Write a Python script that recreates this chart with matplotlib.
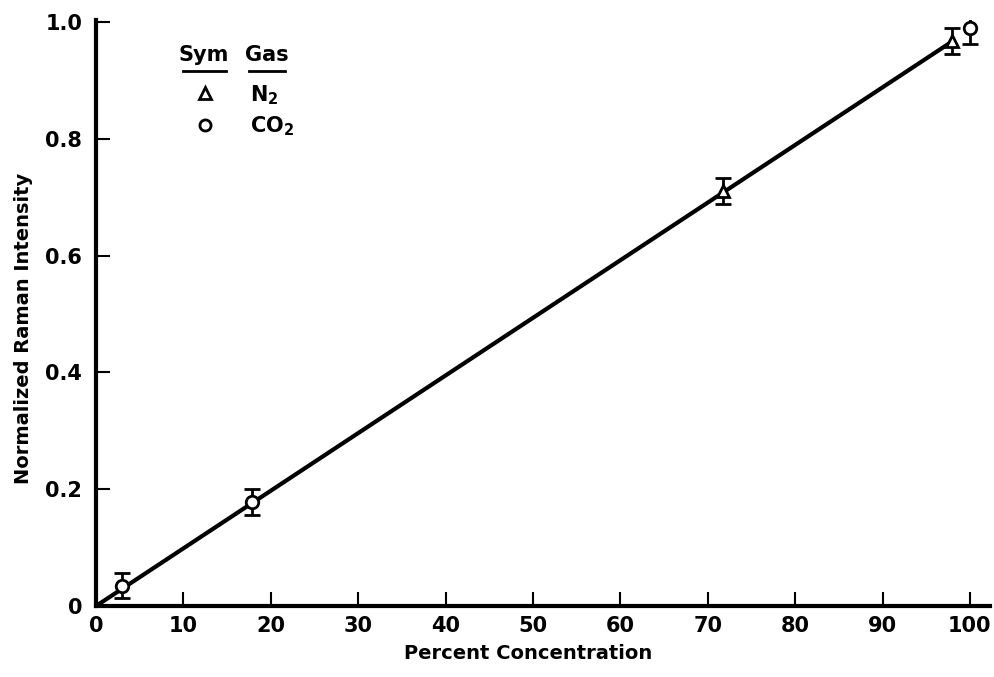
import matplotlib
matplotlib.use('Agg')
import matplotlib.pyplot as plt

plt.rcParams['font.family'] = ['DejaVu Sans']
plt.rcParams['font.weight'] = 'bold'
plt.rcParams['axes.labelweight'] = 'bold'
plt.rcParams['mathtext.default'] = 'regular'

# data
n2_conc = [71.7, 97.9]
n2_int = [0.711, 0.967]
n2_err = [0.022, 0.022]
co2_conc = [3.0, 17.8, 100.0]
co2_int = [0.035, 0.178, 0.99]
co2_err = [0.022, 0.022, 0.027]
fit_x = [0, 98]
fit_y = [0, 0.967]

x_ticks = [0, 10, 20, 30, 40, 50, 60, 70, 80, 90, 100]
y_ticks = [0, 0.2, 0.4, 0.6, 0.8, 1.0]
y_labels = ['0', '0.2', '0.4', '0.6', '0.8', '1.0']

fig = plt.figure(figsize=(9.95, 6.77), dpi=100)
ax = fig.add_axes([96 / 995, (677 - 606) / 677, (990 - 96) / 995, (606 - 20) / 677])

ax.plot(fit_x, fit_y, color='black', lw=3, solid_capstyle='butt', zorder=2)
ax.errorbar(n2_conc, n2_int, yerr=n2_err, fmt='^', ms=9, mfc='white', mec='black',
            mew=2, ecolor='black', elinewidth=2, capsize=6, capthick=2, zorder=3)
ax.errorbar(co2_conc, co2_int, yerr=co2_err, fmt='o', ms=9, mfc='white', mec='black',
            mew=2, ecolor='black', elinewidth=2, capsize=6, capthick=2, zorder=3)

ax.set_xlim(0, 102.3)
ax.set_ylim(0, 1.0034)
ax.set_xticks(x_ticks)
ax.set_yticks(y_ticks)
ax.set_yticklabels(y_labels)
ax.tick_params(direction='in', length=10, width=1.5, labelsize=15)
ax.tick_params(axis='x', pad=7)
ax.tick_params(axis='y', pad=10)
ax.spines['top'].set_visible(False)
ax.spines['right'].set_visible(False)
ax.spines['left'].set_linewidth(3)
ax.spines['bottom'].set_linewidth(3)

ax.set_xlabel('Percent Concentration', fontsize=14)
ax.set_ylabel('Normalized Raman Intensity', fontsize=14)
ax.xaxis.set_label_coords(0.483, -0.065)
ax.yaxis.set_label_coords(-0.07, 0.474)

# hand-drawn style legend table
ax.text(0.121, 0.940, 'Sym', transform=ax.transAxes, fontsize=15, ha='center', va='center')
ax.text(0.191, 0.940, 'Gas', transform=ax.transAxes, fontsize=15, ha='center', va='center')
ax.plot([0.097, 0.145], [0.913, 0.913], transform=ax.transAxes, color='black', lw=2)
ax.plot([0.171, 0.211], [0.913, 0.913], transform=ax.transAxes, color='black', lw=2)
ax.plot([0.122], [0.875], transform=ax.transAxes, marker='^', ms=8, mfc='white', mec='black', mew=2)
ax.plot([0.122], [0.821], transform=ax.transAxes, marker='o', ms=8, mfc='white', mec='black', mew=2)
ax.text(0.172, 0.872, 'N$_2$', transform=ax.transAxes, fontsize=15, ha='left', va='center')
ax.text(0.172, 0.818, 'CO$_2$', transform=ax.transAxes, fontsize=15, ha='left', va='center')

fig.savefig('out.png', dpi=100)
